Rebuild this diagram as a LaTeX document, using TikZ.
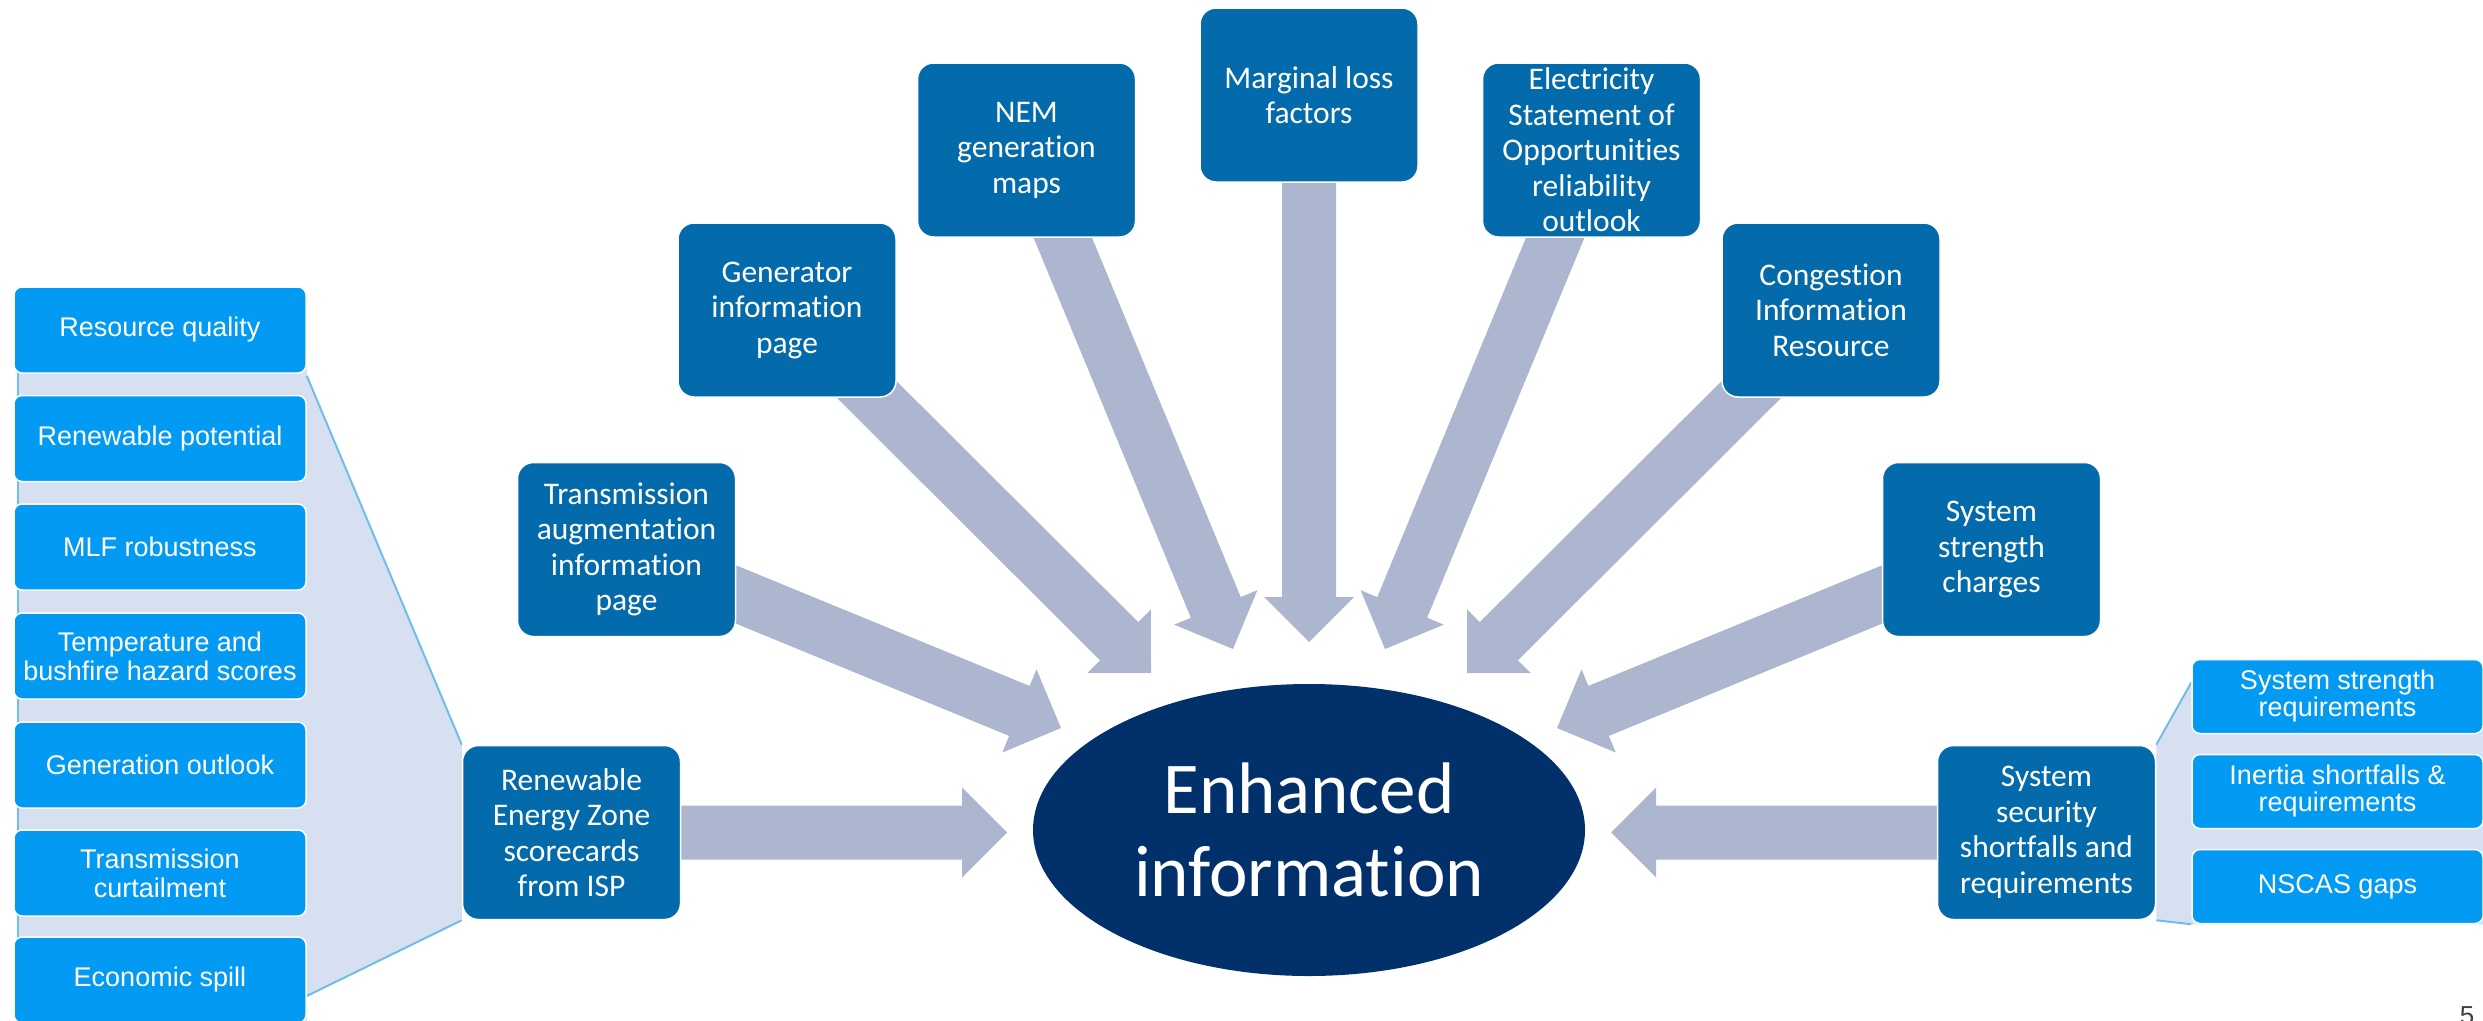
\documentclass[tikz,border=0pt]{standalone}
\usepackage{fontspec}
\setmainfont{Carlito}[Ligatures={NoCommon,NoRequired,NoContextual}]
\newfontfamily\arialf{Liberation Sans}
\usetikzlibrary{calc,shapes.geometric}
\pgfdeclarelayer{bglayer}
\pgfsetlayers{bglayer,main}
\definecolor{cDark}{RGB}{3,106,171}
\definecolor{cLight}{RGB}{2,154,242}
\definecolor{cNavy}{RGB}{2,48,106}
\definecolor{cArrow}{RGB}{172,182,206}
\definecolor{cBg}{RGB}{214,224,241}
\definecolor{cEdge}{RGB}{112,190,232}
\definecolor{cPage}{RGB}{64,64,64}

\newcommand{\blockarrow}[2]{%
  \coordinate (hb) at ($(#2)!45pt!(#1.center)$);
  \fill[cArrow]
    ($(#1.center)!27pt!90:(#2)$) --
    ($(hb)!27pt!90:(#2)$) --
    ($(hb)!45pt!90:(#2)$) --
    (#2) --
    ($(hb)!45pt!-90:(#2)$) --
    ($(hb)!27pt!-90:(#2)$) --
    ($(#1.center)!27pt!-90:(#2)$) -- cycle;}

\begin{document}
\begin{tikzpicture}[x=1pt,y=-1pt,
  darkbox/.style={rounded corners=16pt, fill=cDark, draw=white, line width=1.5pt,
    minimum width=218pt, minimum height=174pt, inner sep=0pt, align=center,
    text=white, font=\fontsize{31.5}{35.5}\selectfont},
  listbox/.style={rounded corners=8pt, fill=cLight, draw=white, line width=1.5pt,
    minimum width=292pt, minimum height=86pt, inner sep=0pt, align=center,
    text=white, font=\arialf\fontsize{27}{29}\selectfont},
  rlistbox/.style={listbox, minimum width=291pt, minimum height=74pt,
    font=\arialf\fontsize{27}{27}\selectfont},
  edgel/.style={draw=cEdge, line width=2pt}]
\useasboundingbox (0,0) rectangle (2483,1020);
\clip (0,0) rectangle (2483,1020);

% central ellipse
\node[ellipse, fill=cNavy, minimum width=552pt, minimum height=292pt, inner sep=0pt,
  text=white, align=center, font=\fontsize{73}{83}\selectfont] (enh) at (1309,830) {Enhanced\\information};

% dark boxes
\node[darkbox] (trans) at (626.5,549.5) {Transmission\\augmentation\\information\\page};
\node[darkbox] (gen) at (787,310) {Generator\\information\\page};
\node[darkbox] (nem) at (1026.5,150) {NEM\\generation\\maps};
\node[darkbox] (mlf) at (1309,95) {Marginal loss\\factors};
\node[darkbox] (eso) at (1591.5,150) {Electricity\\Statement of\\Opportunities\\reliability\\outlook};
\node[darkbox] (cong) at (1831,310) {Congestion\\Information\\Resource};
\node[darkbox] (ssc) at (1991.5,549.5) {System\\strength\\charges};
\node[darkbox] (rez) at (571.5,832.5) {Renewable\\Energy Zone\\scorecards\\from ISP};
\node[darkbox] (sec) at (2046.5,832.5) {System\\security\\shortfalls and\\requirements};

% left list
\node[listbox] (resq) at (160,330) {Resource quality};
\node[listbox] (renp) at (160,438.5) {Renewable potential};
\node[listbox] (mlfr) at (160,547) {MLF robustness};
\node[listbox] (temp) at (160,656) {Temperature and\\bushfire hazard scores};
\node[listbox] (geno) at (160,765) {Generation outlook};
\node[listbox] (trcu) at (160,873) {Transmission\\curtailment};
\node[listbox] (econ) at (160,980) {Economic spill};

% right list
\node[rlistbox] (ssr) at (2337.5,696.5) {System strength\\requirements};
\node[rlistbox] (iner) at (2337.5,791.5) {Inertia shortfalls \&\\requirements};
\node[rlistbox] (nscas) at (2337.5,886.5) {NSCAS gaps};

% page number
\node[font=\arialf\fontsize{26}{26}\selectfont, text=cPage, anchor=north, inner sep=0pt] (pg) at (2467,1006) {5};

% arrow tips
\coordinate (t1) at (1007,832.5);
\coordinate (t2) at (1061,728);
\coordinate (t3) at (1151,673);
\coordinate (t4) at (1233,649);
\coordinate (t5) at (1309,642);
\coordinate (t6) at (1385,649);
\coordinate (t7) at (1467,673);
\coordinate (t8) at (1557,728);
\coordinate (t9) at (1611,832.5);

\begin{pgfonlayer}{bglayer}
  % left group background
  \coordinate (lt) at ([yshift=-2pt]resq.south east);
  \coordinate (lb) at ([yshift=-16pt]econ.east);
  \fill[cBg] (18,330) -- (resq.east) -- (lt) -- (rez.north west) -- (rez.south west) -- (lb) -- (econ.south east) -- (18,1020) -- cycle;
  \draw[edgel] (lt) -- (rez.north west);
  \draw[edgel] (rez.south west) -- (lb);
  \draw[draw=cEdge, line width=1.5pt] (18,330) -- (18,1020);
  % right group background
  \coordinate (rt) at ([yshift=14pt]ssr.west);
  \fill[cBg] (sec.north east) -- (rt) -- (ssr.east) -- (nscas.south east) -- (nscas.south west) -- (sec.south east) -- cycle;
  \draw[edgel] (sec.north east) -- (rt);
  \draw[edgel] (sec.south east) -- (nscas.south west);
  % block arrows
  \blockarrow{rez}{t1}
  \blockarrow{trans}{t2}
  \blockarrow{gen}{t3}
  \blockarrow{nem}{t4}
  \blockarrow{mlf}{t5}
  \blockarrow{eso}{t6}
  \blockarrow{cong}{t7}
  \blockarrow{ssc}{t8}
  \blockarrow{sec}{t9}
\end{pgfonlayer}
\end{tikzpicture}
\end{document}
